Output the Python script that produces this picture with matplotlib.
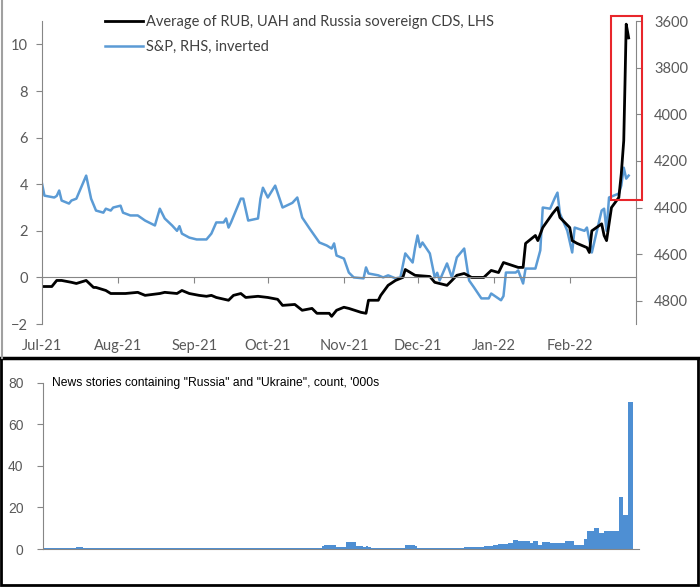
import matplotlib
matplotlib.use("Agg")
import matplotlib.pyplot as plt
import matplotlib.dates as mdates
from matplotlib.patches import Rectangle
from matplotlib.lines import Line2D
import pandas as pd

# CDS average (LHS)
cds_dates = ["2021-07-01", "2021-07-05", "2021-07-07", "2021-07-09", "2021-07-13", "2021-07-15",
             "2021-07-19", "2021-07-22", "2021-07-23", "2021-07-27", "2021-07-29", "2021-08-02",
             "2021-08-04", "2021-08-09", "2021-08-12", "2021-08-18", "2021-08-20", "2021-08-25",
             "2021-08-27", "2021-08-30", "2021-09-03", "2021-09-06", "2021-09-08", "2021-09-10",
             "2021-09-15", "2021-09-17", "2021-09-20", "2021-09-22", "2021-09-27", "2021-10-01",
             "2021-10-05", "2021-10-07", "2021-10-12", "2021-10-15", "2021-10-19", "2021-10-21",
             "2021-10-26", "2021-10-27", "2021-10-29", "2021-11-01", "2021-11-03", "2021-11-08",
             "2021-11-10", "2021-11-11", "2021-11-15", "2021-11-16", "2021-11-19", "2021-11-22",
             "2021-11-25", "2021-11-26", "2021-11-30", "2021-12-06", "2021-12-08", "2021-12-13",
             "2021-12-15", "2021-12-17", "2021-12-20", "2021-12-23", "2021-12-28", "2021-12-31",
             "2022-01-03", "2022-01-05", "2022-01-11", "2022-01-13", "2022-01-14", "2022-01-18",
             "2022-01-19", "2022-01-21", "2022-01-25", "2022-01-27", "2022-01-28", "2022-02-01",
             "2022-02-02", "2022-02-04", "2022-02-08", "2022-02-09", "2022-02-10", "2022-02-14",
             "2022-02-15", "2022-02-16", "2022-02-18", "2022-02-21", "2022-02-22", "2022-02-23",
             "2022-02-23 12:00", "2022-02-24", "2022-02-25"]
cds_vals = [-0.39, -0.39, -0.13, -0.13, -0.21, -0.26,
            -0.13, -0.43, -0.43, -0.56, -0.69, -0.69,
            -0.69, -0.64, -0.77, -0.69, -0.64, -0.69,
            -0.56, -0.69, -0.77, -0.81, -0.77, -0.86,
            -0.98, -0.77, -0.69, -0.86, -0.81, -0.86,
            -0.94, -1.2, -1.16, -1.41, -1.33, -1.54,
            -1.54, -1.67, -1.41, -1.28, -1.33, -1.5,
            -1.54, -0.98, -0.98, -0.77, -0.34, -0.13,
            0.0, 0.34, 0.09, 0.04, -0.21, -0.34,
            -0.13, 0.09, 0.17, 0.0, 0.0, 0.3,
            0.21, 0.64, 0.43, 0.43, 1.46, 1.8,
            1.58, 2.14, 2.74, 3.0, 2.57, 2.14,
            1.58, 1.46, 1.28, 1.07, 2.0, 2.3,
            1.8, 1.58, 3.0, 3.43, 4.45, 5.87,
            8.3, 10.87, 10.28]

# S&P 500 (RHS, inverted)
spx_dates = ["2021-07-01", "2021-07-02", "2021-07-06", "2021-07-07", "2021-07-08", "2021-07-09",
             "2021-07-12", "2021-07-13", "2021-07-15", "2021-07-19", "2021-07-21", "2021-07-23",
             "2021-07-26", "2021-07-27", "2021-07-29", "2021-07-30", "2021-08-02", "2021-08-03",
             "2021-08-06", "2021-08-09", "2021-08-12", "2021-08-16", "2021-08-18", "2021-08-20",
             "2021-08-23", "2021-08-25", "2021-08-26", "2021-08-27", "2021-08-30", "2021-09-02",
             "2021-09-06", "2021-09-08", "2021-09-10", "2021-09-13", "2021-09-14", "2021-09-15",
             "2021-09-16", "2021-09-20", "2021-09-21", "2021-09-23", "2021-09-27", "2021-09-28",
             "2021-09-29", "2021-10-01", "2021-10-04", "2021-10-07", "2021-10-11", "2021-10-13",
             "2021-10-15", "2021-10-18", "2021-10-22", "2021-10-25", "2021-10-27", "2021-10-28",
             "2021-10-29", "2021-11-01", "2021-11-03", "2021-11-05", "2021-11-09", "2021-11-10",
             "2021-11-11", "2021-11-15", "2021-11-17", "2021-11-19", "2021-11-22", "2021-11-24",
             "2021-11-26", "2021-11-29", "2021-11-30", "2021-12-01", "2021-12-02", "2021-12-03",
             "2021-12-06", "2021-12-08", "2021-12-09", "2021-12-10", "2021-12-13", "2021-12-15",
             "2021-12-17", "2021-12-20", "2021-12-22", "2021-12-24", "2021-12-27", "2021-12-30",
             "2021-12-31", "2022-01-04", "2022-01-05", "2022-01-06", "2022-01-10", "2022-01-11",
             "2022-01-13", "2022-01-14", "2022-01-18", "2022-01-20", "2022-01-21", "2022-01-24",
             "2022-01-26", "2022-01-27", "2022-01-28", "2022-01-31", "2022-02-02", "2022-02-03",
             "2022-02-07", "2022-02-08", "2022-02-10", "2022-02-14", "2022-02-15", "2022-02-16",
             "2022-02-17", "2022-02-21", "2022-02-22", "2022-02-23", "2022-02-24", "2022-02-25"]
spx_vals = [4297, 4349, 4357, 4350, 4327, 4370,
            4383, 4370, 4362, 4263, 4362, 4413,
            4422, 4405, 4413, 4400, 4392, 4422,
            4434, 4434, 4456, 4477, 4405, 4447,
            4477, 4500, 4480, 4512, 4529, 4537,
            4537, 4512, 4464, 4464, 4447, 4486,
            4464, 4362, 4362, 4456, 4447, 4362,
            4315, 4357, 4306, 4400, 4380, 4357,
            4443, 4490, 4550, 4563, 4576, 4554,
            4606, 4619, 4679, 4700, 4704, 4657,
            4683, 4691, 4700, 4691, 4704, 4700,
            4597, 4636, 4572, 4520, 4570, 4550,
            4597, 4700, 4680, 4713, 4640, 4700,
            4614, 4576, 4713, 4743, 4790, 4790,
            4769, 4798, 4780, 4679, 4679, 4670,
            4726, 4662, 4662, 4584, 4400, 4405,
            4357, 4336, 4426, 4500, 4593, 4486,
            4500, 4486, 4593, 4413, 4405, 4500,
            4357, 4340, 4306, 4229, 4276, 4263]

# daily news stories, '000s, 1 Jul 2021 onwards
news_jul = [0.4, 0.4, 0.3, 0.3, 0.4, 0.5, 0.4, 0.4, 0.3, 0.3, 0.4, 0.5, 0.5, 0.6, 0.8, 0.9,
            0.8, 0.7, 0.5, 0.4, 0.4, 0.4, 0.3, 0.3, 0.4, 0.4, 0.4, 0.5, 0.4, 0.3, 0.3]
news_aug = [0.4, 0.4, 0.5, 0.4, 0.3, 0.3, 0.4, 0.4, 0.5, 0.4, 0.4, 0.3, 0.3, 0.4, 0.4, 0.5,
            0.4, 0.3, 0.3, 0.4, 0.4, 0.4, 0.5, 0.4, 0.3, 0.3, 0.4, 0.4, 0.3, 0.3, 0.4]
news_sep = [0.4, 0.5, 0.4, 0.3, 0.3, 0.4, 0.5, 0.6, 0.6, 0.5, 0.4, 0.4, 0.4, 0.3, 0.3, 0.4,
            0.4, 0.4, 0.3, 0.4, 0.4, 0.4, 0.5, 0.4, 0.3, 0.3, 0.4, 0.5, 0.6, 0.7]
news_oct = [0.7, 0.7, 0.5, 0.4, 0.4, 0.4, 0.4, 0.3, 0.3, 0.4, 0.4, 0.5, 0.4, 0.4, 0.3, 0.3,
            0.4, 0.4, 0.5, 0.5, 0.4, 0.4, 1.6, 2.0, 2.1, 2.0, 1.8, 2.0, 1.2, 0.8, 0.8]
news_nov = [0.8, 3.4, 3.5, 3.3, 3.2, 1.4, 1.3, 1.4, 1.2, 1.3, 1.1, 0.6, 0.5, 0.5, 0.5, 0.6,
            0.5, 0.5, 0.6, 0.5, 0.5, 0.6, 0.5, 0.5, 0.6, 1.8, 1.9, 1.8, 1.7, 1.6]
news_dec = [0.6, 0.5, 0.5, 0.5, 0.5, 0.6, 0.5, 0.5, 0.5, 0.6, 0.5, 0.5, 0.5, 0.6, 0.5, 0.5,
            0.5, 0.6, 0.5, 1.0, 1.0, 1.0, 0.8, 0.8, 0.8, 0.8, 0.8, 1.3, 1.3, 1.3, 1.3]
news_jan = [2.0, 2.0, 2.6, 2.6, 2.6, 2.6, 3.0, 3.0, 4.5, 4.5, 4.0, 4.0, 4.0, 4.0, 4.0, 3.0,
            3.7, 3.7, 2.0, 2.0, 3.2, 3.2, 3.2, 2.9, 2.9, 2.9, 2.9, 2.9, 2.9, 3.7, 3.7]
news_feb = [3.7, 3.7, 2.0, 2.0, 2.0, 2.0, 4.8, 8.8, 8.8, 8.8, 10.2, 10.2, 7.5, 7.5, 8.8, 8.8,
            8.8, 8.8, 8.8, 8.8, 25.0, 25.0, 16.3, 16.3, 70.6, 70.6]
news_vals = news_jul + news_aug + news_sep + news_oct + news_nov + news_dec + news_jan + news_feb
news_dates = pd.date_range("2021-07-01", periods=len(news_vals), freq="D")

month_ticks = pd.date_range("2021-07-01", "2022-02-01", freq="MS")
month_labels = [d.strftime("%b-%y") for d in month_ticks]

GREY = "#595959"
AXIS = "#868686"
BLUE = "#5b9bd5"
BAR_BLUE = "#4e8fd3"

plt.rcParams["font.family"] = ["Lato", "DejaVu Sans"]

fig = plt.figure(figsize=(7, 5.87), dpi=100)
ax = fig.add_axes([0.06, 0.448, 0.8486, 0.516])
ax2 = ax.twinx()

cds_x = pd.to_datetime(cds_dates, format="mixed")
spx_x = pd.to_datetime(spx_dates)

ax2.plot(spx_x, spx_vals, color=BLUE, lw=1.8)
ax.plot(cds_x, cds_vals, color="black", lw=2.0)
ax.set_zorder(ax2.get_zorder() + 1)
ax.patch.set_visible(False)

x0 = pd.Timestamp("2021-07-01")
x1 = pd.Timestamp("2022-02-28")
ax.set_xlim(x0, x1)
ax.set_ylim(-2, 11)
ax.set_yticks([-2, 0, 2, 4, 6, 8, 10])
ax2.set_ylim(4900, 3600)
ax2.set_yticks([3600, 3800, 4000, 4200, 4400, 4600, 4800])

for s in ["top", "right"]:
    ax.spines[s].set_visible(False)
for s in ["top", "left", "bottom"]:
    ax2.spines[s].set_visible(False)
ax.spines["left"].set_color(AXIS)
ax2.spines["right"].set_color(AXIS)
ax.spines["bottom"].set_position(("data", 0))
ax.spines["bottom"].set_color(AXIS)

ax.set_xticks(month_ticks)
ax.set_xticklabels(month_labels)
ax.tick_params(axis="x", colors=AXIS, labelcolor=GREY, labelsize=10.5, length=4, pad=40)
ax.tick_params(axis="y", colors=AXIS, labelcolor=GREY, labelsize=10.5, length=4, pad=6)
ax2.tick_params(axis="y", colors=AXIS, labelcolor=GREY, labelsize=10.5, length=4, pad=9)

handles = [Line2D([], [], color="black", lw=2.0), Line2D([], [], color=BLUE, lw=1.8)]
leg = ax.legend(handles, ["Average of RUB, UAH and Russia sovereign CDS, LHS", "S&P, RHS, inverted"],
                loc="upper left", bbox_to_anchor=(0.084, 1.062), frameon=False, fontsize=10.5,
                handlelength=2.6, handletextpad=0.2, labelspacing=0.7, labelcolor="#404040")

# red box around the latest move
box_x0 = mdates.date2num(pd.Timestamp("2022-02-18"))
box_x1 = mdates.date2num(pd.Timestamp("2022-03-02 12:00"))
ax.add_patch(Rectangle((box_x0, 3.32), box_x1 - box_x0, 11.2 - 3.32, fill=False,
                       edgecolor="#e8262b", lw=1.5, clip_on=False, zorder=5))

# bottom panel: news stories
bx = fig.add_axes([0.0614, 0.0647, 0.8486, 0.283])
bx.bar(news_dates, news_vals, width=1.0, color=BAR_BLUE, linewidth=0)
bx.set_xlim(x0, x1)
bx.set_ylim(0, 80)
bx.set_yticks([0, 20, 40, 60, 80])
bx.set_xticks([])
for s in ["top", "right"]:
    bx.spines[s].set_visible(False)
bx.spines["left"].set_color(AXIS)
bx.spines["bottom"].set_color(AXIS)
bx.spines["bottom"].set_bounds(mdates.date2num(x0), mdates.date2num(x1) + 1)
bx.tick_params(axis="y", colors=AXIS, labelcolor=GREY, labelsize=10, length=4, pad=10,
               labelfontfamily="Liberation Sans")
bx.text(0.015, 1.0, "News stories containing \"Russia\" and \"Ukraine\", count, '000s",
        transform=bx.transAxes, fontsize=8.7, family=["Liberation Sans Narrow", "Liberation Sans"],
        va="center", ha="left", color="black")

# panel frames
fig.add_artist(Line2D([0, 1], [0.39, 0.39], transform=fig.transFigure, color="black", lw=2.5))
fig.add_artist(Rectangle((0.002, 0.003), 0.995, 0.387, transform=fig.transFigure,
                         fill=False, edgecolor="black", lw=2))
fig.add_artist(Line2D([0.003, 0.003], [0.39, 1], transform=fig.transFigure, color="#a0a0a0", lw=1.5))

fig.savefig("out.png", dpi=100)
